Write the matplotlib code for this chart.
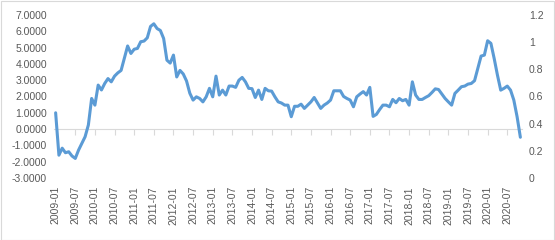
import matplotlib
matplotlib.use("Agg")
import matplotlib.pyplot as plt
from matplotlib.patches import Rectangle

values = [
    1.00, -1.60, -1.17, -1.45, -1.39, -1.65, -1.80, -1.29, -0.88, -0.47,
    0.25, 1.88, 1.47, 2.70, 2.40, 2.80, 3.10, 2.90, 3.25, 3.45,
    3.60, 4.35, 5.10, 4.64, 4.90, 4.95, 5.36, 5.40, 5.60, 6.30,
    6.46, 6.17, 6.05, 5.56, 4.23, 4.05, 4.54, 3.20, 3.60, 3.38,
    2.95, 2.20, 1.78, 1.98, 1.88, 1.67, 1.98, 2.50, 1.98, 3.25,
    2.09, 2.39, 2.09, 2.64, 2.64, 2.56, 3.00, 3.17, 2.90, 2.50,
    2.48, 1.94, 2.39, 1.82, 2.50, 2.35, 2.33, 1.98, 1.67, 1.60,
    1.47, 1.47, 0.76, 1.40, 1.40, 1.53, 1.27, 1.47, 1.67, 1.94,
    1.60, 1.27, 1.47, 1.60, 1.78, 2.35, 2.35, 2.35, 2.00, 1.88,
    1.78, 1.37, 1.98, 2.15, 2.30, 2.09, 2.56, 0.78, 0.90, 1.20,
    1.47, 1.47, 1.37, 1.82, 1.62, 1.88, 1.74, 1.82, 1.47, 2.90,
    2.09, 1.82, 1.82, 1.94, 2.05, 2.25, 2.47, 2.43, 2.15, 1.88,
    1.67, 1.47, 2.19, 2.39, 2.60, 2.64, 2.76, 2.80, 2.97, 3.72,
    4.48, 4.54, 5.42, 5.26, 4.33, 3.31, 2.39, 2.50, 2.64, 2.39,
    1.78, 0.76, -0.50,
]

tick_labels = [
    "2009-01", "2009-07", "2010-01", "2010-07", "2011-01", "2011-07",
    "2012-01", "2012-07", "2013-01", "2013-07", "2014-01", "2014-07",
    "2015-01", "2015-07", "2016-01", "2016-07", "2017-01", "2017-07",
    "2018-01", "2018-07", "2019-01", "2019-07", "2020-01", "2020-07",
]

left_ticks = [-3, -2, -1, 0, 1, 2, 3, 4, 5, 6, 7]
right_ticks = [0, 0.2, 0.4, 0.6, 0.8, 1.0, 1.2]
right_labels = ["0", "0.2", "0.4", "0.6", "0.8", "1", "1.2"]

W, H = 555, 240
fig = plt.figure(figsize=(W / 100, H / 100), dpi=100)
fig.patch.set_facecolor("white")

ax = fig.add_axes([54 / W, 1 - 178 / H, (522 - 54) / W, (178 - 15) / H])
n = len(values)
x = list(range(n))
ax.plot(x, values, color="#5B9BD5", linewidth=2.2, solid_joinstyle="round",
        solid_capstyle="round", zorder=3)

ax.set_xlim(-0.5, n - 0.5)
ax.set_ylim(-3, 7)

for s in ["top", "right", "left"]:
    ax.spines[s].set_visible(False)
ax.spines["bottom"].set_position(("data", 0))
ax.spines["bottom"].set_color("#D9D9D9")
ax.spines["bottom"].set_linewidth(0.8)

ax.set_xticks(list(range(0, n, 6)))
ax.set_xticklabels(tick_labels, rotation=90, fontsize=7.5, color="#595959",
                   family="Liberation Sans")
ax.tick_params(axis="x", direction="out", length=4, width=0.8,
               color="#D9D9D9", pad=37)

ax.set_yticks(left_ticks)
ax.set_yticklabels([f"{v:.4f}" for v in left_ticks], fontsize=7.5,
                   color="#595959", family="Liberation Sans")
ax.tick_params(axis="y", length=0, pad=5)

ax2 = ax.twinx()
ax2.set_ylim(0, 1.2)
ax2.set_yticks(right_ticks)
ax2.set_yticklabels(right_labels, fontsize=7.5, color="#595959",
                    family="Liberation Sans")
ax2.tick_params(axis="y", length=0, pad=5)
for s in ["top", "right", "left", "bottom"]:
    ax2.spines[s].set_visible(False)

fig.patches.append(Rectangle((0.5 / W, 0.5 / H), 1 - 1.5 / W, 1 - 1.5 / H,
                             transform=fig.transFigure, fill=False,
                             edgecolor="#D9D9D9", linewidth=0.8))

fig.savefig("out.png", dpi=100, facecolor="white")
